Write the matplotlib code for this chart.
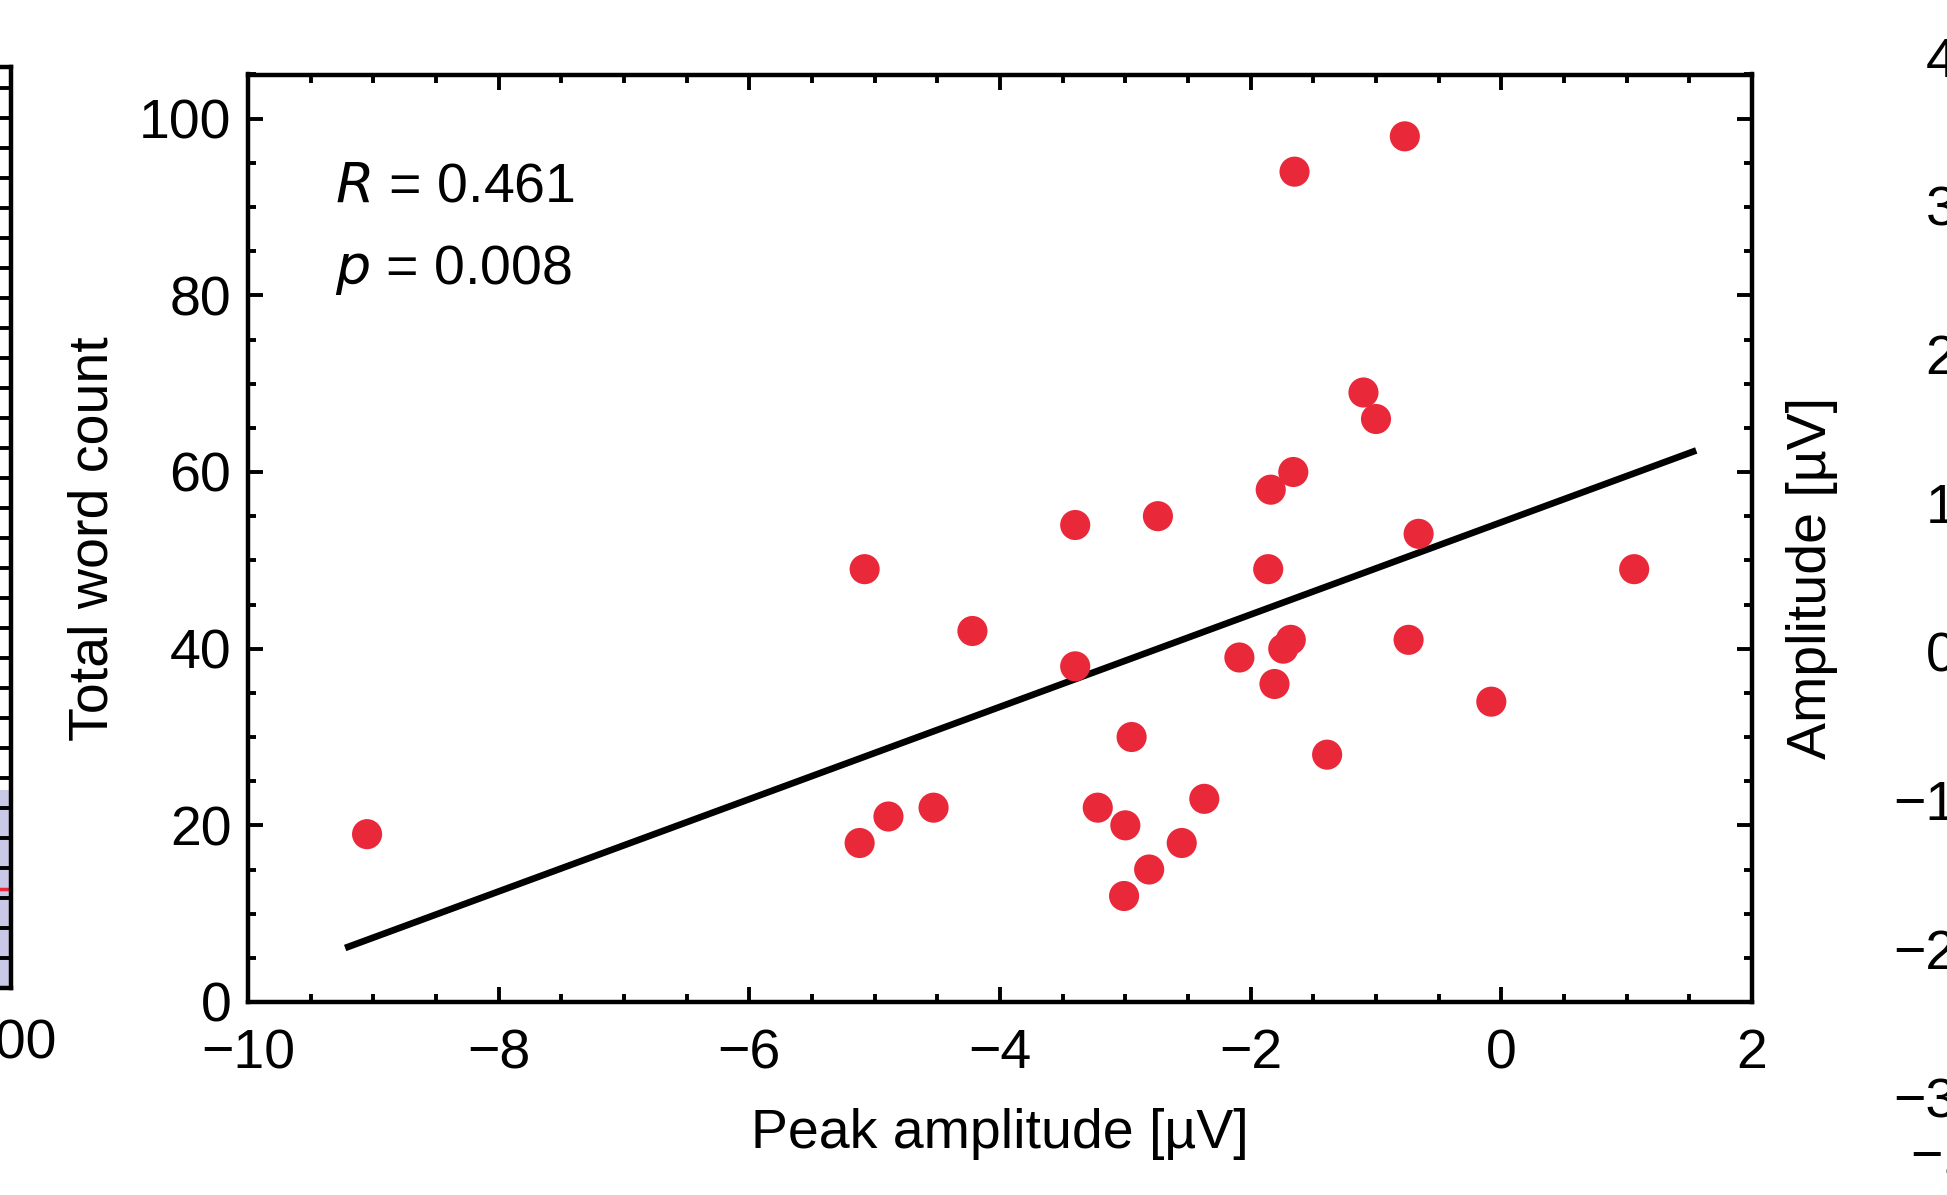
import numpy as np
import matplotlib
matplotlib.use("Agg")
import matplotlib.pyplot as plt
from matplotlib.ticker import MultipleLocator

plt.rcParams["font.family"] = ["Liberation Sans", "DejaVu Sans"]
plt.rcParams["axes.unicode_minus"] = True

# peak amplitude [uV] vs total word count, one point per subject
amp = [-9.05, -5.12, -5.08, -4.89, -4.53, -4.22, -3.40, -3.40, -3.22, -3.00,
       -3.01, -2.95, -2.81, -2.74, -2.55, -2.37, -2.09, -1.86, -1.84, -1.81,
       -1.74, -1.68, -1.66, -1.65, -1.39, -1.10, -1.00, -0.77, -0.74, -0.66,
       -0.08, 1.06]
words = [19, 18, 49, 21, 22, 42, 54, 38, 22, 20,
         12, 30, 15, 55, 18, 23, 39, 49, 58, 36,
         40, 41, 60, 94, 28, 69, 66, 98, 41, 53,
         34, 49]
fit_x = [-9.2, 1.53]
r_text = "$\\it{R}$ = 0.461"
p_text = "$\\it{p}$ = 0.008"

# neighbouring panels (only edges visible)
right_ticks = [-3, -2, -1, 0, 1, 2, 3, 4]

W, H = 1947, 1195
fig = plt.figure(figsize=(W / 100, H / 100), dpi=100)
FS = 40
RED = "#e9283a"

def tick_style(ax):
    ax.tick_params(which="both", direction="in", top=True, right=True,
                   width=2.8, labelsize=FS)
    ax.tick_params(which="major", length=11)
    ax.tick_params(which="minor", length=6)
    for s in ax.spines.values():
        s.set_linewidth(3.2)

# main panel
ax = fig.add_axes([248 / W, 1 - 1002 / H, (1752 - 248) / W, (1002 - 74.5) / H])
ax.scatter(amp, words, s=470, color=RED, edgecolors="none", zorder=3)
k, b = np.polyfit(amp, words, 1)
fx = np.array(fit_x)
ax.plot(fx, k * fx + b, color="black", lw=4.8, zorder=2)
ax.set_xlim(-10, 2)
ax.set_ylim(0, 105)
ax.xaxis.set_major_locator(MultipleLocator(2))
ax.xaxis.set_minor_locator(MultipleLocator(0.5))
ax.yaxis.set_major_locator(MultipleLocator(20))
ax.yaxis.set_minor_locator(MultipleLocator(5))
tick_style(ax)
ax.tick_params(axis="x", which="both", pad=19)
ax.tick_params(axis="y", which="both", pad=12)
ax.set_xlabel("Peak amplitude [µV]", fontsize=FS, labelpad=20)
ax.set_ylabel("Total word count", fontsize=FS, labelpad=14)
ax.text(0.058, 0.878, r_text, transform=ax.transAxes, fontsize=FS, va="center")
ax.text(0.058, 0.789, p_text, transform=ax.transAxes, fontsize=FS, va="center")

# left neighbour panel, cut at the figure edge
axl = fig.add_axes([(11 - 400) / W, 1 - 988 / H, 400 / W, (988 - 67) / H])
axl.set_xlim(0, 100)
axl.set_ylim(0, 30.7)
axl.axhspan(0, 6.6, color="#c9c8e6", lw=0)
axl.axhline(3.3, color=RED, lw=2.5)
axl.set_xticks([100])
axl.set_xticklabels(["100"])
axl.yaxis.set_major_locator(MultipleLocator(1))
axl.tick_params(direction="in", right=True, left=False, labelleft=False,
                length=8, width=2.8, labelsize=FS, pad=22)
for s in axl.spines.values():
    s.set_linewidth(3.2)

# right neighbour panel, cut at the figure edge
axr = fig.add_axes([1973 / W, 1 - 1106 / H, 0.3, (1106 - 50) / H])
axr.set_ylim(-3.06, 4.05)
axr.set_yticks(right_ticks)
axr.set_xlim(-100, 100)
axr.set_xticks([-100])
axr.tick_params(direction="in", length=10, width=2.8, labelsize=FS, pad=12)
axr.tick_params(axis="x", pad=20)
axr.set_ylabel("Amplitude [µV]", fontsize=FS, labelpad=40)

fig.savefig("out.png", dpi=100)
